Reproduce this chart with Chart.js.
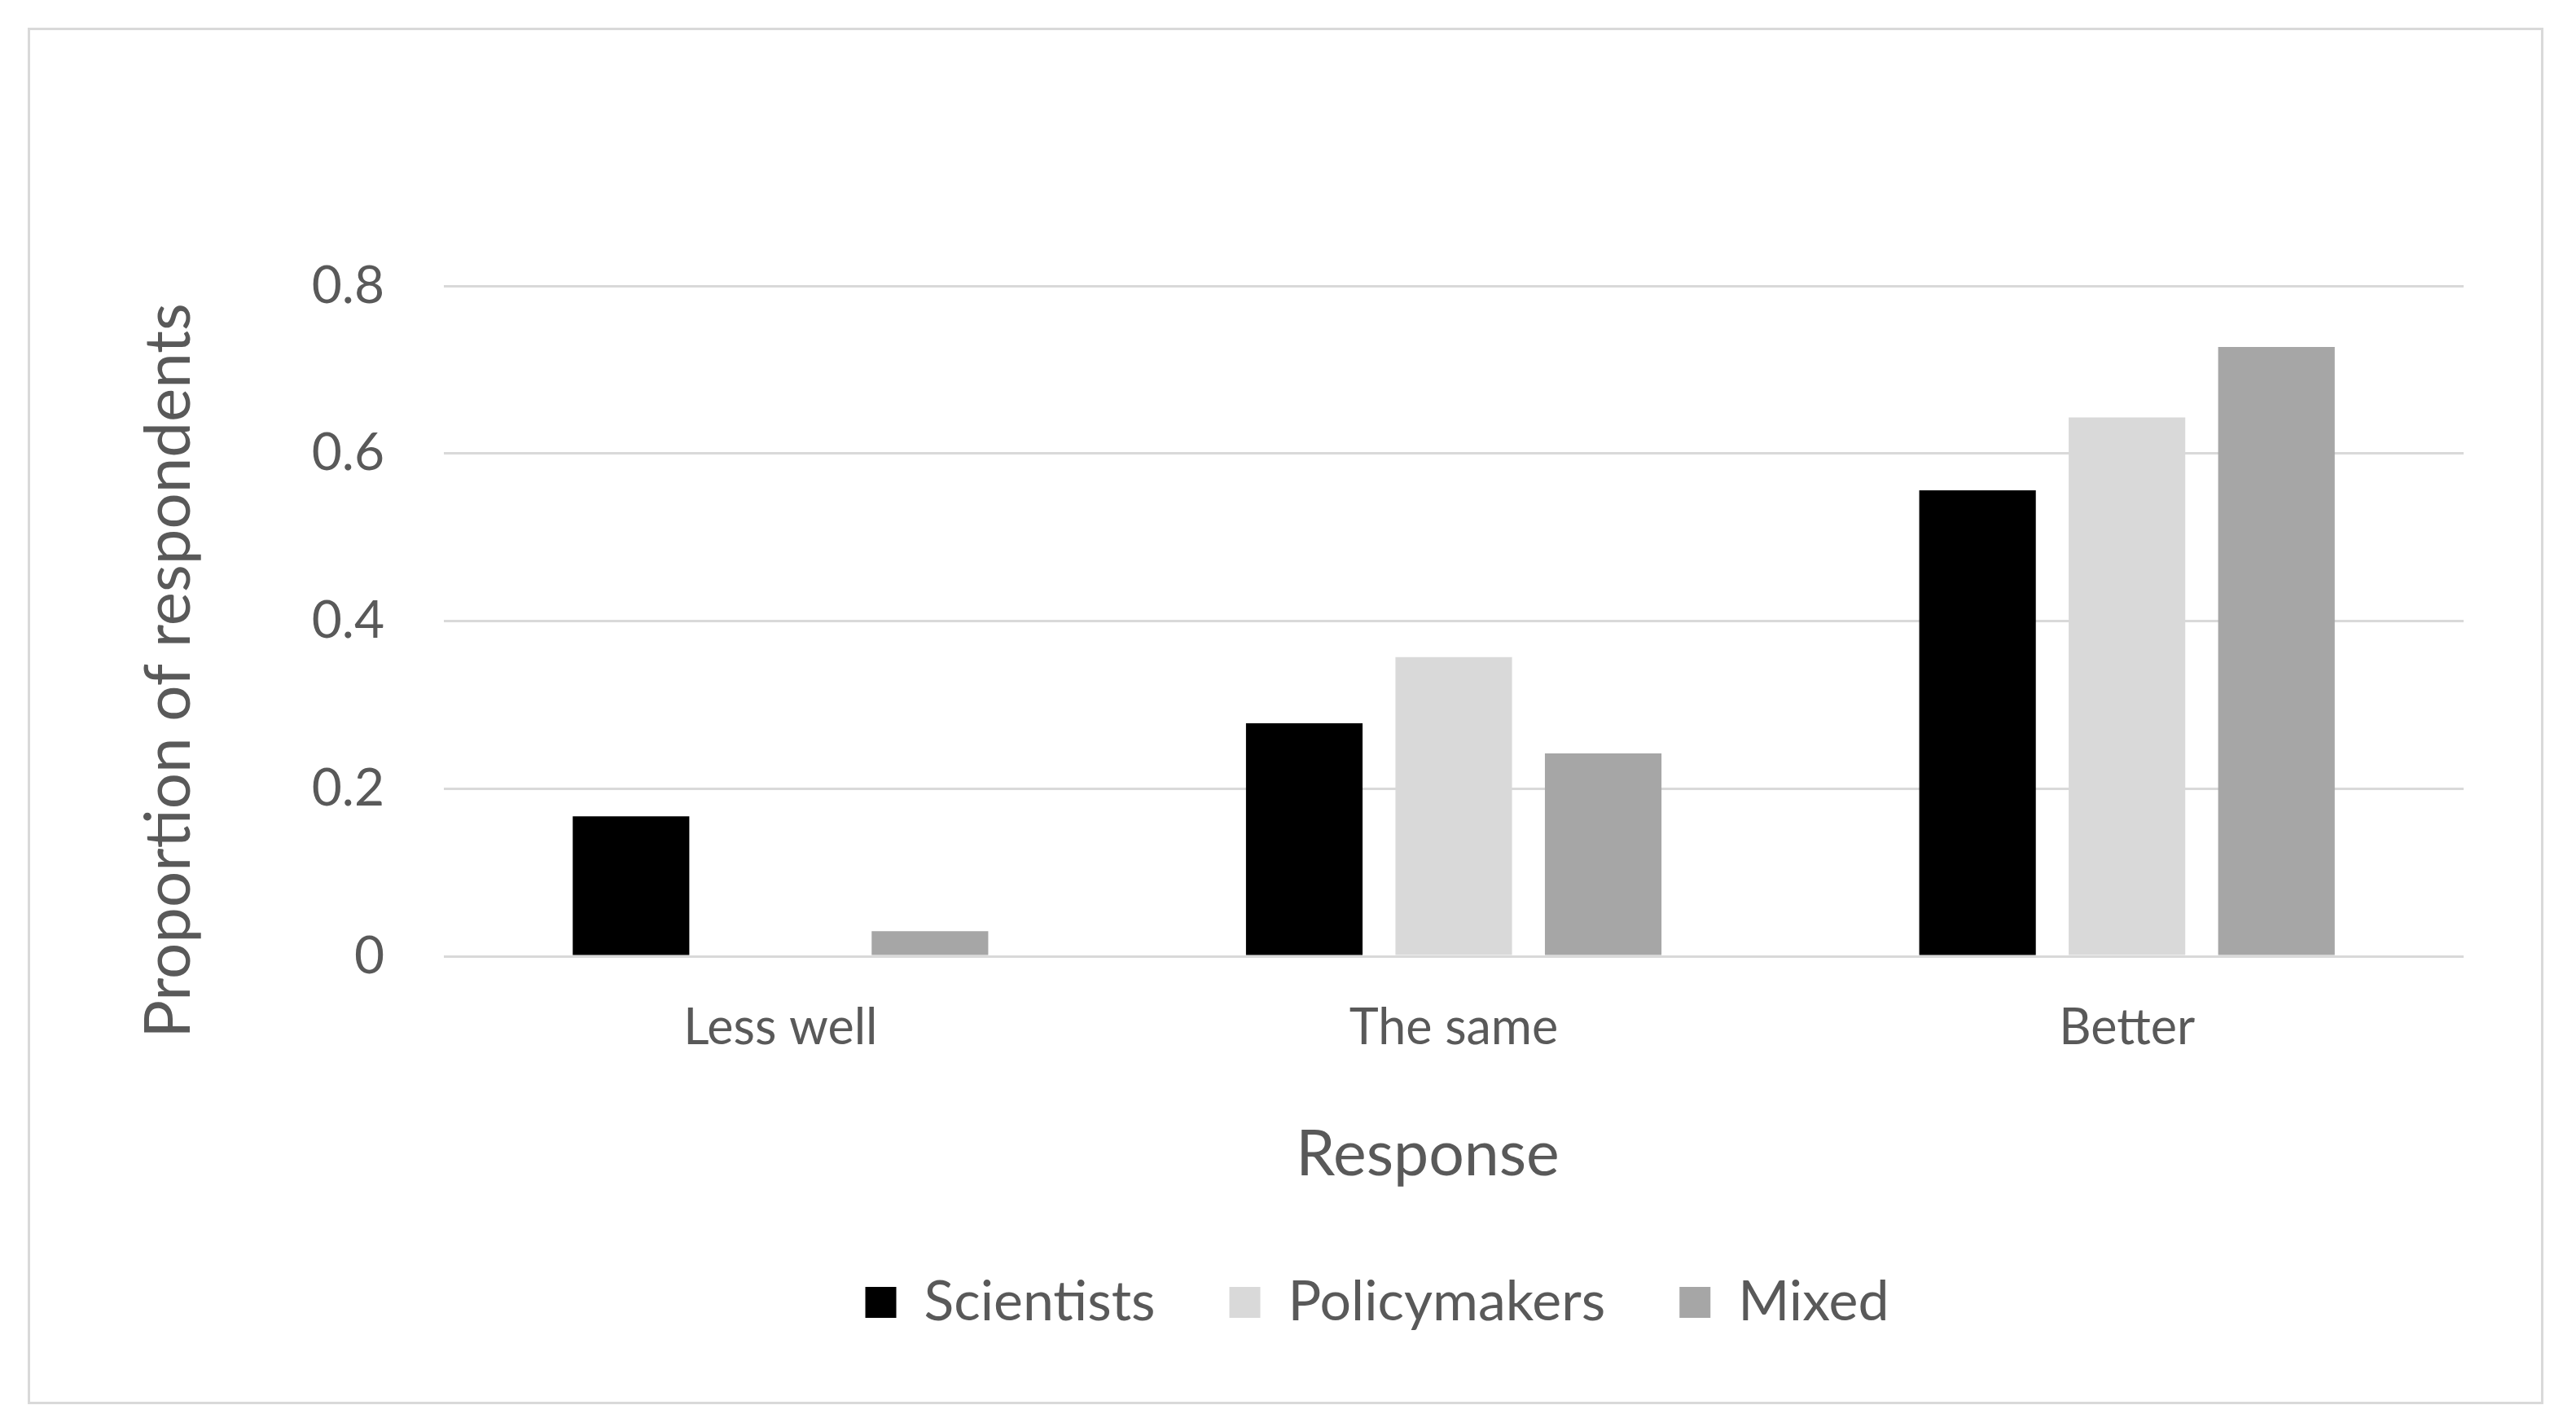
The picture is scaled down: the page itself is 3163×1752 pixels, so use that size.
<!DOCTYPE html>
<html>
<head>
<meta charset="utf-8">
<script src="https://cdn.jsdelivr.net/npm/chart.js@4.4.1/dist/chart.umd.min.js"></script>
<style>
  html, body { margin: 0; padding: 0; background: #ffffff; }
  #frame {
    position: absolute; left: 34px; top: 34px;
    width: 3089px; height: 1690px;
    border: 3px solid #d9d9d9; box-sizing: border-box; background: #ffffff;
  }
  #frame canvas { display: block; }
</style>
</head>
<body>
<div id="frame"><canvas id="myChart"></canvas></div>
<script>
/*---- data ----*/
var categories = ["Less well", "The same", "Better"];
var seriesNames = ["Scientists", "Policymakers", "Mixed"];
var scientists = [0.167, 0.278, 0.556];
var policymakers = [0, 0.357, 0.643];
var mixed = [0.03, 0.242, 0.727];
var yTickLabels = ["0", "0.2", "0.4", "0.6", "0.8"];
var xTitle = "Response";
var yTitle = "Proportion of respondents";

var textColor = "#595959";
var fontFamily = "Lato, 'Open Sans', sans-serif";

/*---- draws the two axis titles where the reference has them ----*/
var axisTitles = {
  id: "axisTitles",
  afterDraw: function(chart) {
    var ctx = chart.ctx, a = chart.chartArea;
    ctx.save();
    ctx.fillStyle = textColor;
    ctx.textAlign = "center";
    ctx.textBaseline = "middle";
    ctx.font = "78px " + fontFamily;
    ctx.translate(a.left - 337, (a.top + a.bottom) / 2 + 61);
    ctx.rotate(-Math.PI / 2);
    ctx.fillText(yTitle, 0, 0);
    ctx.restore();

    ctx.save();
    ctx.fillStyle = textColor;
    ctx.textAlign = "center";
    ctx.textBaseline = "middle";
    ctx.font = "77px " + fontFamily;
    ctx.fillText(xTitle, (a.left + a.right) / 2 - 32, a.bottom + 244);
    ctx.restore();
  }
};

var ctx = document.getElementById("myChart").getContext("2d");
var myChart = new Chart(ctx, {
  type: "bar",
  data: {
    labels: categories,
    datasets: [
      { label: seriesNames[0], data: scientists, backgroundColor: "#000000" },
      { label: seriesNames[1], data: policymakers, backgroundColor: "#d9d9d9" },
      { label: seriesNames[2], data: mixed, backgroundColor: "#a6a6a6" }
    ]
  },
  options: {
    responsive: true,
    maintainAspectRatio: false,
    animation: false,
    layout: { padding: { left: 320, right: 95, top: 314, bottom: 78 } },
    datasets: { bar: { categoryPercentage: 0.666, barPercentage: 0.78, borderWidth: 0 } },
    plugins: {
      tooltip: { enabled: false },
      legend: {
        position: "bottom",
        labels: {
          color: textColor,
          font: { family: fontFamily, size: 68 },
          boxWidth: 38,
          boxHeight: 38,
          padding: 91
        }
      }
    },
    scales: {
      x: {
        grid: { display: false },
        border: { display: false },
        ticks: { color: textColor, font: { family: fontFamily, size: 61 }, padding: 44, maxRotation: 0 },
        afterFit: function(scale) { scale.height = 300; }
      },
      y: {
        min: 0,
        max: 0.8,
        grid: { color: "#d9d9d9", lineWidth: 3, drawTicks: false },
        border: { display: false },
        ticks: {
          stepSize: 0.2,
          color: textColor,
          font: { family: fontFamily, size: 64 },
          padding: 73,
          callback: function(v, i) { return yTickLabels[i]; }
        },
        afterFit: function(scale) { scale.width = 188; }
      }
    }
  },
  plugins: [axisTitles]
});
</script>
</body>
</html>
